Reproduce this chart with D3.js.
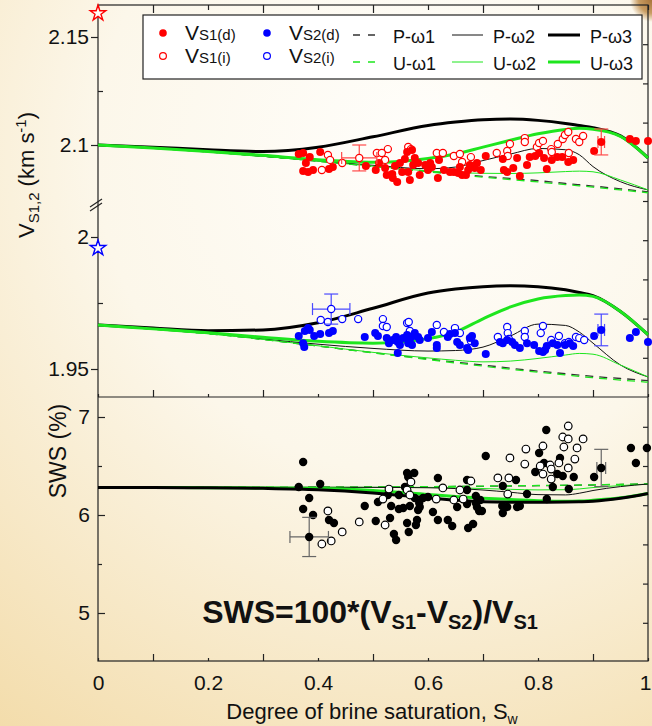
<!DOCTYPE html>
<html>
<head>
<meta charset="utf-8">
<script src="https://cdn.jsdelivr.net/npm/d3@7"></script>
<style>
  body { margin: 0; }
  svg { display: block; font-family: 'Liberation Sans', Arial, sans-serif; }
</style>
</head>
<body>
<div id="chart"></div>
<script>
// saturation grid used by all model curves
const sw = [0, 0.1, 0.2, 0.3, 0.4, 0.5, 0.6, 0.65, 0.7, 0.75, 0.8, 0.85, 0.875, 0.9, 0.95, 1]

// V_S1 model curves (km/s)
const vs1P1 = [2.1, 2.0985, 2.0968, 2.0948, 2.0925, 2.0902, 2.0878, 2.0866, 2.0855, 2.0845, 2.0835, 2.0822, 2.0816, 2.081, 2.0797, 2.0783]
const vs1U1 = [2.1, 2.0985, 2.0968, 2.0948, 2.0925, 2.0901, 2.0876, 2.0863, 2.0851, 2.084, 2.0829, 2.0817, 2.0811, 2.0805, 2.0792, 2.0779]
const vs1P2 = [2.1, 2.0985, 2.0968, 2.0948, 2.0926, 2.0906, 2.089, 2.0898, 2.0928, 2.0958, 2.0984, 2.0978, 2.0955, 2.09, 2.083, 2.0792]
const vs1U2 = [2.1, 2.0985, 2.0968, 2.0948, 2.0925, 2.0902, 2.088, 2.0872, 2.0869, 2.0868, 2.0871, 2.0877, 2.0879, 2.0876, 2.0838, 2.0792]
const vs1P3 = [2.1, 2.099, 2.0978, 2.097, 2.099, 2.1038, 2.109, 2.1106, 2.1117, 2.112, 2.1114, 2.11, 2.109, 2.108, 2.1042, 2.094]
const vs1U3 = [2.1, 2.0986, 2.097, 2.0952, 2.0932, 2.092, 2.0938, 2.0958, 2.099, 2.1022, 2.1052, 2.1072, 2.1077, 2.1073, 2.104, 2.094]

// V_S2 model curves (km/s)
const vs2P1 = [1.9667, 1.9651, 1.9634, 1.9612, 1.9587, 1.9562, 1.9538, 1.9526, 1.9515, 1.9503, 1.9492, 1.9482, 1.9477, 1.9472, 1.9464, 1.9456]
const vs2U1 = [1.9667, 1.9651, 1.9634, 1.9612, 1.9587, 1.9561, 1.9536, 1.9523, 1.9511, 1.9499, 1.9488, 1.9478, 1.9472, 1.9467, 1.9458, 1.945]
const vs2P2 = [1.9667, 1.9652, 1.9636, 1.9614, 1.9594, 1.9578, 1.9568, 1.957, 1.9583, 1.9625, 1.967, 1.9665, 1.964, 1.9598, 1.9515, 1.947]
const vs2U2 = [1.9667, 1.9651, 1.9634, 1.9612, 1.9588, 1.9563, 1.9542, 1.9533, 1.9527, 1.953, 1.954, 1.9553, 1.9559, 1.9556, 1.9515, 1.947]
const vs2P3 = [1.9667, 1.9655, 1.9645, 1.9648, 1.9675, 1.973, 1.9788, 1.9803, 1.9812, 1.9815, 1.9812, 1.98, 1.979, 1.9778, 1.9718, 1.963]
const vs2U3 = [1.9667, 1.9652, 1.9637, 1.962, 1.9605, 1.9598, 1.9615, 1.964, 1.969, 1.9735, 1.9765, 1.9778, 1.978, 1.9775, 1.9718, 1.963]

// SWS model curves (%)
const swsP1 = [6.28, 6.28, 6.281, 6.282, 6.284, 6.286, 6.289, 6.291, 6.293, 6.296, 6.299, 6.302, 6.304, 6.306, 6.311, 6.316]
const swsU1 = [6.28, 6.28, 6.281, 6.282, 6.284, 6.286, 6.29, 6.292, 6.295, 6.298, 6.301, 6.304, 6.306, 6.308, 6.313, 6.318]
const swsP2 = [6.28, 6.28, 6.281, 6.282, 6.283, 6.282, 6.278, 6.27, 6.255, 6.232, 6.208, 6.205, 6.222, 6.25, 6.29, 6.316]
const swsU2 = [6.28, 6.28, 6.281, 6.282, 6.283, 6.283, 6.282, 6.278, 6.27, 6.262, 6.256, 6.258, 6.266, 6.28, 6.3, 6.316]
const swsP3 = [6.28, 6.28, 6.278, 6.272, 6.258, 6.225, 6.175, 6.152, 6.135, 6.13, 6.13, 6.132, 6.135, 6.14, 6.17, 6.22]
const swsU3 = [6.28, 6.28, 6.279, 6.276, 6.27, 6.25, 6.21, 6.19, 6.172, 6.158, 6.146, 6.14, 6.142, 6.15, 6.175, 6.22]

// measured points [Sw, value]
const vs1Direct = [[0.365, 2.0958], [0.373, 2.0963], [0.378, 2.0917], [0.385, 2.0944], [0.404, 2.0968], [0.373, 2.088], [0.382, 2.0875], [0.391, 2.0884], [0.42, 2.0889], [0.427, 2.0898], [0.487, 2.0903], [0.505, 2.0884], [0.511, 2.0917], [0.525, 2.0861], [0.535, 2.0866], [0.536, 2.0847], [0.544, 2.0829], [0.553, 2.0875], [0.549, 2.0917], [0.558, 2.0935], [0.562, 2.0968], [0.571, 2.0977], [0.573, 2.0907], [0.567, 2.0838], [0.564, 2.0875], [0.582, 2.0917], [0.585, 2.0861], [0.595, 2.0907], [0.604, 2.0917], [0.607, 2.0898], [0.618, 2.0847], [0.62, 2.0931], [0.64, 2.0875], [0.647, 2.0875], [0.655, 2.087], [0.658, 2.0898], [0.669, 2.0861], [0.673, 2.0884], [0.676, 2.0907], [0.685, 2.0894], [0.689, 2.0917], [0.705, 2.0949], [0.738, 2.0884], [0.744, 2.0875], [0.755, 2.0894], [0.762, 2.094], [0.78, 2.0907], [0.785, 2.0944], [0.736, 2.0935], [0.767, 2.0856], [0.795, 2.0949], [0.802, 2.0963], [0.811, 2.094], [0.816, 2.0889], [0.825, 2.0931], [0.835, 2.0944], [0.844, 2.0944], [0.855, 2.0921], [0.864, 2.0931], [0.902, 2.0972], [0.967, 2.1028], [0.978, 2.1019], [1.0, 2.1019], [0.54, 2.0903], [0.576, 2.094], [0.629, 2.0884], [0.662, 2.0861], [0.696, 2.0884], [0.522, 2.0894], [0.6, 2.0884]]
const vs1Indirect = [[0.418, 2.0954], [0.422, 2.0931], [0.444, 2.0917], [0.407, 2.0884], [0.507, 2.0963], [0.527, 2.0981], [0.522, 2.0931], [0.516, 2.0963], [0.564, 2.0991], [0.569, 2.0981], [0.616, 2.0963], [0.627, 2.0963], [0.647, 2.0949], [0.658, 2.0958], [0.662, 2.0921], [0.678, 2.0944], [0.725, 2.0963], [0.744, 2.0972], [0.749, 2.1005], [0.745, 2.0949], [0.776, 2.1032], [0.776, 2.1014], [0.798, 2.0991], [0.802, 2.1009], [0.809, 2.1019], [0.824, 2.0981], [0.825, 2.0968], [0.836, 2.1005], [0.845, 2.1028], [0.849, 2.1046], [0.855, 2.106], [0.856, 2.0963], [0.869, 2.1028], [0.875, 2.1014], [0.882, 2.1042]]
const vs2Direct = [[0.365, 1.9625], [0.376, 1.9644], [0.382, 1.9655], [0.385, 1.9648], [0.373, 1.9598], [0.375, 1.9583], [0.393, 1.9625], [0.404, 1.9633], [0.42, 1.9636], [0.427, 1.9644], [0.485, 1.9621], [0.504, 1.9636], [0.509, 1.9625], [0.525, 1.9617], [0.529, 1.9598], [0.536, 1.961], [0.542, 1.9621], [0.545, 1.9602], [0.549, 1.9591], [0.555, 1.9617], [0.562, 1.9629], [0.564, 1.9598], [0.567, 1.961], [0.573, 1.9625], [0.576, 1.9636], [0.582, 1.9621], [0.585, 1.961], [0.571, 1.9591], [0.545, 1.9561], [0.6, 1.9617], [0.607, 1.964], [0.616, 1.9591], [0.616, 1.958], [0.636, 1.9621], [0.64, 1.9633], [0.649, 1.9636], [0.653, 1.9602], [0.658, 1.9591], [0.671, 1.958], [0.676, 1.9617], [0.68, 1.9625], [0.685, 1.9598], [0.673, 1.9572], [0.705, 1.9557], [0.731, 1.9602], [0.736, 1.9598], [0.744, 1.961], [0.753, 1.9602], [0.758, 1.9591], [0.767, 1.958], [0.78, 1.9598], [0.793, 1.9591], [0.802, 1.9568], [0.809, 1.9564], [0.813, 1.9572], [0.816, 1.9587], [0.827, 1.9598], [0.835, 1.9591], [0.84, 1.9561], [0.849, 1.9591], [0.858, 1.9598], [0.864, 1.9587], [0.902, 1.9625], [0.967, 1.9617], [0.978, 1.964], [1.0, 1.9602]]
const vs2Indirect = [[0.405, 1.9686], [0.418, 1.9678], [0.444, 1.9689], [0.473, 1.9689], [0.518, 1.9689], [0.518, 1.9663], [0.525, 1.9659], [0.562, 1.9674], [0.565, 1.9678], [0.567, 1.9644], [0.616, 1.9667], [0.629, 1.964], [0.649, 1.9655], [0.658, 1.9636], [0.678, 1.9606], [0.727, 1.9621], [0.744, 1.9659], [0.745, 1.9636], [0.747, 1.9614], [0.776, 1.9644], [0.776, 1.9621], [0.805, 1.9636], [0.809, 1.9663], [0.824, 1.961], [0.838, 1.9625], [0.849, 1.9598], [0.856, 1.9602], [0.869, 1.9621], [0.875, 1.9617], [0.884, 1.961]]
const swsDirect = [[0.373, 6.541], [0.365, 6.286], [0.404, 6.316], [0.384, 6.173], [0.373, 6.061], [0.391, 6.0], [0.42, 5.949], [0.429, 5.918], [0.485, 6.092], [0.505, 5.939], [0.509, 6.133], [0.527, 6.204], [0.531, 5.969], [0.533, 6.092], [0.538, 5.806], [0.542, 5.745], [0.547, 6.204], [0.547, 6.061], [0.555, 6.071], [0.558, 6.286], [0.562, 6.429], [0.575, 6.429], [0.564, 6.388], [0.562, 5.918], [0.565, 5.827], [0.567, 6.092], [0.576, 6.173], [0.582, 6.051], [0.58, 5.949], [0.584, 6.122], [0.578, 5.898], [0.585, 6.082], [0.591, 6.173], [0.6, 6.184], [0.618, 6.378], [0.618, 5.949], [0.609, 6.031], [0.636, 5.949], [0.644, 5.888], [0.653, 6.082], [0.671, 6.357], [0.671, 6.255], [0.671, 6.112], [0.687, 6.194], [0.687, 6.122], [0.689, 6.082], [0.693, 6.041], [0.698, 6.041], [0.695, 6.153], [0.673, 5.867], [0.682, 5.908], [0.705, 6.602], [0.735, 6.092], [0.736, 6.296], [0.736, 6.02], [0.744, 6.082], [0.76, 6.357], [0.762, 6.082], [0.767, 6.092], [0.78, 6.214], [0.795, 6.439], [0.802, 6.633], [0.811, 6.531], [0.815, 6.867], [0.816, 6.163], [0.827, 6.286], [0.835, 6.418], [0.84, 6.582], [0.845, 6.398], [0.856, 6.265], [0.865, 6.388], [0.902, 6.388], [0.969, 6.684], [0.978, 6.531], [0.998, 6.684]]
const swsIndirect = [[0.418, 6.041], [0.407, 5.704], [0.424, 5.735], [0.444, 5.827], [0.475, 5.929], [0.518, 6.163], [0.522, 5.898], [0.529, 6.265], [0.562, 6.255], [0.569, 6.337], [0.567, 6.204], [0.615, 6.163], [0.627, 6.276], [0.647, 6.153], [0.658, 6.255], [0.664, 6.163], [0.678, 6.347], [0.727, 6.378], [0.745, 6.214], [0.749, 6.582], [0.747, 6.378], [0.776, 6.52], [0.778, 6.673], [0.804, 6.5], [0.809, 6.418], [0.809, 6.704], [0.822, 6.51], [0.824, 6.469], [0.824, 6.367], [0.838, 6.531], [0.845, 6.796], [0.855, 6.776], [0.855, 6.908], [0.847, 6.694], [0.855, 6.48], [0.867, 6.571], [0.871, 6.684], [0.882, 6.776]]

// mean values with error bars [Sw, value, dSw, dValue, open]
const vs1Err = [[0.475, 2.094, 0.032, 0.006, true], [0.915, 2.1014, 0.006, 0.006, false]]
const vs2Err = [[0.424, 1.9727, 0.034, 0.0057, true], [0.915, 1.9648, 0.006, 0.006, false]]
const swsErr = [[0.384, 5.776, 0.035, 0.2, false], [0.915, 6.48, 0.008, 0.19, false]]

// dry-rock values (stars at Sw = 0)
const vs1Dry = 2.161
const vs2Dry = 1.9958

const xTicks = [0, 0.2, 0.4, 0.6, 0.8, 1]
const xMinor = [0.1, 0.3, 0.5, 0.7, 0.9]

const width = 652
const height = 726
const frameBox = { left: 98, right: 648, top: 5, mid: 397, bottom: 661 }
const green = '#1ee61e'
const plainFormat = d3.format('')

const svg = d3
  .select('#chart')
  .append('svg')
  .attr('width', width)
  .attr('height', height)

// background
const defs = svg.append('defs')
const bg = defs
  .append('radialGradient')
  .attr('id', 'bg')
  .attr('gradientUnits', 'userSpaceOnUse')
  .attr('cx', 420)
  .attr('cy', 150)
  .attr('r', 720)
bg.append('stop').attr('offset', '0%').attr('stop-color', '#fffefb')
bg.append('stop').attr('offset', '45%').attr('stop-color', '#fcf7ea')
bg.append('stop').attr('offset', '100%').attr('stop-color', '#f3dcaa')
const corner = defs
  .append('radialGradient')
  .attr('id', 'corner')
  .attr('gradientUnits', 'userSpaceOnUse')
  .attr('cx', 652)
  .attr('cy', 0)
  .attr('r', 22)
corner.append('stop').attr('offset', '0%').attr('stop-color', '#a8743a')
corner.append('stop').attr('offset', '60%').attr('stop-color', '#c89c62')
corner.append('stop').attr('offset', '100%').attr('stop-color', '#c89c62').attr('stop-opacity', 0)

svg.append('rect').attr('width', width).attr('height', height).attr('fill', 'url(#bg)')
svg.append('rect').attr('x', 620).attr('width', 32).attr('height', 30).attr('fill', 'url(#corner)')

// scales
const x = d3.scaleLinear().domain([0, 1]).range([frameBox.left, frameBox.right])
const yUp = d3.scaleLinear().domain([2.1, 2.15]).range([145, 37])
const yLo = d3.scaleLinear().domain([1.95, 2]).range([369, 237])
const yV = v => (v > 2.04 ? yUp(v) : yLo(v))
const ySws = d3.scaleLinear().domain([5, 7]).range([613, 417])
const yRightTop = d3.scaleLinear().domain([0, 10]).range([frameBox.mid, frameBox.top])

// frame
const frame = svg.append('g').attr('stroke', '#222').attr('stroke-width', 1.2).attr('fill', 'none')
frame.append('rect')
  .attr('x', frameBox.left)
  .attr('y', frameBox.top)
  .attr('width', frameBox.right - frameBox.left)
  .attr('height', frameBox.bottom - frameBox.top)
frame.append('line')
  .attr('x1', frameBox.left)
  .attr('x2', frameBox.right)
  .attr('y1', frameBox.mid)
  .attr('y2', frameBox.mid)

function styleAxis(g) {
  g.select('.domain').remove()
  g.selectAll('line').attr('stroke', '#222').attr('stroke-width', 1.2)
  g.selectAll('text').attr('font-size', 21).attr('fill', '#111').attr('font-family', "'Liberation Sans', Arial, sans-serif")
}

function addAxis(axis, tx, ty) {
  return svg.append('g').attr('transform', `translate(${tx},${ty})`).call(axis).call(styleAxis)
}

const L = frameBox.left
const R = frameBox.right

// left axis, V panel
addAxis(d3.axisLeft(yUp).tickValues([2.1, 2.15]).tickSize(7).tickPadding(2).tickFormat(plainFormat), L, 0)
addAxis(d3.axisLeft(yLo).tickValues([1.95, 2]).tickSize(7).tickPadding(2).tickFormat(plainFormat), L, 0)
addAxis(d3.axisRight(yUp).tickValues([2.125]).tickSize(5).tickFormat(''), L, 0)
addAxis(d3.axisRight(yLo).tickValues([1.975]).tickSize(5).tickFormat(''), L, 0)

// axis break marks
svg.append('g')
  .selectAll('line')
  .data([0, 4])
  .enter()
  .append('line')
  .attr('x1', L - 8)
  .attr('x2', L + 4)
  .attr('y1', d => 207 + d)
  .attr('y2', d => 199 + d)
  .attr('stroke', '#222')
  .attr('stroke-width', 1.2)

// left axis, SWS panel
addAxis(d3.axisLeft(ySws).tickValues([5, 6, 7]).tickSizeInner(-7).tickSizeOuter(0).tickPadding(8).tickFormat(plainFormat), L, 0)
addAxis(d3.axisRight(ySws).tickValues([5.5, 6.5]).tickSize(4).tickFormat(''), L, 0)

// right axis ticks
addAxis(d3.axisLeft(yRightTop).tickValues(d3.range(1, 10)).tickSize(5).tickFormat(''), R, 0)
addAxis(d3.axisLeft(ySws).tickValues([4.9, 5.3, 5.7, 6.1, 6.5, 6.9]).tickSize(5).tickFormat(''), R, 0)

// x ticks (inward) and labels
const xAxisG = addAxis(d3.axisBottom(x).tickValues(xTicks).tickSizeInner(-3).tickSizeOuter(0).tickPadding(14).tickFormat(plainFormat), 0, frameBox.bottom)
xAxisG.selectAll('text').filter(d => d === 1).attr('dx', -3)
addAxis(d3.axisTop(x).tickValues(xMinor).tickSize(7).tickFormat(''), 0, frameBox.bottom)
addAxis(d3.axisTop(x).tickValues(xTicks).tickSize(3).tickFormat(''), 0, frameBox.mid)
addAxis(d3.axisTop(x).tickValues(xMinor).tickSize(7).tickFormat(''), 0, frameBox.mid)
addAxis(d3.axisBottom(x).tickValues(xTicks).tickSize(5).tickFormat(''), 0, frameBox.top)
addAxis(d3.axisBottom(x).tickValues(xMinor).tickSize(8).tickFormat(''), 0, frameBox.top)

// axis titles
const xTitle = svg.append('text')
  .attr('x', 372)
  .attr('y', 719)
  .attr('text-anchor', 'middle')
  .attr('font-size', 22)
  .attr('fill', '#111')
xTitle.append('tspan').text('Degree of brine saturation, S')
xTitle.append('tspan').attr('font-size', 14).attr('dy', 5).text('w')

const yTitle = svg.append('text')
  .attr('transform', 'translate(34,175) rotate(-90)')
  .attr('text-anchor', 'middle')
  .attr('font-size', 22)
  .attr('fill', '#111')
yTitle.append('tspan').text('V')
yTitle.append('tspan').attr('font-size', 15).attr('dy', 5).text('S1,2')
yTitle.append('tspan').attr('dy', -5).text(' (km s')
yTitle.append('tspan').attr('font-size', 15).attr('dy', -8).text('-1')
yTitle.append('tspan').attr('dy', 8).text(')')

svg.append('text')
  .attr('transform', 'translate(66,451) rotate(-90)')
  .attr('text-anchor', 'middle')
  .attr('font-size', 23)
  .attr('fill', '#111')
  .text('SWS (%)')

// model curves
const curveStyles = {
  P1: { color: '#333', width: 1.3, dash: '8,6' },
  U1: { color: green, width: 1.3, dash: '8,6' },
  P2: { color: '#111', width: 1 },
  U2: { color: green, width: 1 },
  P3: { color: '#000', width: 3 },
  U3: { color: green, width: 3 }
}

function drawCurves(series, yFn) {
  const line = d3
    .line()
    .x((d, i) => x(sw[i]))
    .y(d => yFn(d))
    .curve(d3.curveMonotoneX)
  series.forEach(([vals, key]) => {
    const s = curveStyles[key]
    svg
      .append('path')
      .datum(vals)
      .attr('d', line)
      .attr('fill', 'none')
      .attr('stroke', s.color)
      .attr('stroke-width', s.width)
      .attr('stroke-dasharray', s.dash || null)
  })
}

drawCurves([[vs1P1, 'P1'], [vs1U1, 'U1'], [vs1P2, 'P2'], [vs1U2, 'U2'], [vs1P3, 'P3'], [vs1U3, 'U3']], yV)
drawCurves([[vs2P1, 'P1'], [vs2U1, 'U1'], [vs2P2, 'P2'], [vs2U2, 'U2'], [vs2P3, 'P3'], [vs2U3, 'U3']], yV)
drawCurves([[swsP1, 'P1'], [swsU1, 'U1'], [swsU2, 'U2'], [swsP2, 'P2'], [swsU3, 'U3'], [swsP3, 'P3']], ySws)

// error bars
function drawErr(rows, yFn, color, lineColor, r) {
  const g = svg.append('g')
  rows.forEach(([s, v, ds, dv, open]) => {
    const cx = x(s)
    const cy = yFn(v)
    const y1 = yFn(v + dv)
    const y2 = yFn(v - dv)
    const gl = g.append('g').attr('stroke', lineColor).attr('stroke-width', 1.2)
    gl.append('line').attr('x1', cx).attr('x2', cx).attr('y1', y1).attr('y2', y2)
    gl.append('line').attr('x1', cx - 7).attr('x2', cx + 7).attr('y1', y1).attr('y2', y1)
    gl.append('line').attr('x1', cx - 7).attr('x2', cx + 7).attr('y1', y2).attr('y2', y2)
    const xa = x(s - ds)
    const xb = x(s + ds)
    gl.append('line').attr('x1', xa).attr('x2', xb).attr('y1', cy).attr('y2', cy)
    gl.append('line').attr('x1', xa).attr('x2', xa).attr('y1', cy - 6).attr('y2', cy + 6)
    gl.append('line').attr('x1', xb).attr('x2', xb).attr('y1', cy - 6).attr('y2', cy + 6)
    g.append('circle')
      .attr('cx', cx)
      .attr('cy', cy)
      .attr('r', open ? r - 0.4 : r)
      .attr('fill', open ? 'white' : color)
      .attr('stroke', open ? color : 'none')
      .attr('stroke-width', 1.2)
  })
}

// points
function drawPoints(data, yFn, color, open, r) {
  svg
    .append('g')
    .selectAll('circle')
    .data(data)
    .enter()
    .append('circle')
    .attr('cx', d => x(d[0]))
    .attr('cy', d => yFn(d[1]))
    .attr('r', open ? r - 0.4 : r)
    .attr('fill', open ? 'white' : color)
    .attr('stroke', open ? color : 'none')
    .attr('stroke-width', 1.2)
}

drawPoints(vs1Indirect, yV, '#ff0000', true, 4)
drawPoints(vs1Direct, yV, '#ff0000', false, 4)
drawPoints(vs2Indirect, yV, '#0000ff', true, 4)
drawPoints(vs2Direct, yV, '#0000ff', false, 4)
drawPoints(swsDirect, ySws, '#000', false, 4.2)
drawPoints(swsIndirect, ySws, '#000', true, 4.2)

drawErr(vs1Err, yV, '#ff0000', '#ff4a4a', 4)
drawErr(vs2Err, yV, '#0000ff', '#4a4aff', 4)
drawErr(swsErr, ySws, '#000', '#666', 4.2)

// dry-rock stars
const star = d3.symbol().type(d3.symbolStar).size(75)
svg.append('path')
  .attr('d', star)
  .attr('transform', `translate(${x(0)},${yV(vs1Dry)})`)
  .attr('fill', '#fffef8')
  .attr('stroke', '#ff0000')
  .attr('stroke-width', 1.4)
svg.append('path')
  .attr('d', star)
  .attr('transform', `translate(${x(0)},${yV(vs2Dry)})`)
  .attr('fill', '#fffef8')
  .attr('stroke', '#0000ff')
  .attr('stroke-width', 1.4)

// legend
const legend = svg.append('g')
legend.append('rect')
  .attr('x', 143)
  .attr('y', 15)
  .attr('width', 499)
  .attr('height', 64)
  .attr('fill', 'white')
  .attr('stroke', '#222')
  .attr('stroke-width', 1.2)

const markerItems = [
  { x: 163, y: 33, color: '#ff0000', open: false, label: 'S1(d)' },
  { x: 163, y: 56, color: '#ff0000', open: true, label: 'S1(i)' },
  { x: 267, y: 33, color: '#0000ff', open: false, label: 'S2(d)' },
  { x: 267, y: 56, color: '#0000ff', open: true, label: 'S2(i)' }
]
markerItems.forEach(d => {
  legend.append('circle')
    .attr('cx', d.x)
    .attr('cy', d.y)
    .attr('r', d.open ? 3.4 : 3.8)
    .attr('fill', d.open ? 'white' : d.color)
    .attr('stroke', d.open ? d.color : 'none')
    .attr('stroke-width', 1.2)
  const t = legend.append('text')
    .attr('x', d.x + 22)
    .attr('y', d.y + 7)
    .attr('fill', '#111')
  t.append('tspan').attr('font-size', 21).text('V')
  t.append('tspan').attr('font-size', 15).text(d.label)
})

const lineItems = [
  { x: 353, w: 24, key: 'P1', label: 'P-ω1', row: 0 },
  { x: 353, w: 24, key: 'U1', label: 'U-ω1', row: 1 },
  { x: 452, w: 31, key: 'P2', label: 'P-ω2', row: 0 },
  { x: 452, w: 31, key: 'U2', label: 'U-ω2', row: 1 },
  { x: 548, w: 32, key: 'P3', label: 'P-ω3', row: 0 },
  { x: 548, w: 32, key: 'U3', label: 'U-ω3', row: 1 }
]
lineItems.forEach(d => {
  const s = curveStyles[d.key]
  const ly = d.row === 0 ? 35 : 62
  legend.append('line')
    .attr('x1', d.x)
    .attr('x2', d.x + d.w)
    .attr('y1', ly)
    .attr('y2', ly)
    .attr('stroke', s.color)
    .attr('stroke-width', s.width)
    .attr('stroke-dasharray', s.dash ? '7,8' : null)
  legend.append('text')
    .attr('x', d.x + d.w + 10 + (d.key[1] === '1' ? 6 : 0))
    .attr('y', ly + 8)
    .attr('font-size', 18)
    .attr('fill', '#111')
    .text(d.label)
})

// SWS formula
const formula = svg.append('text')
  .attr('x', 370)
  .attr('y', 623)
  .attr('text-anchor', 'middle')
  .attr('font-size', 32)
  .attr('font-weight', 'bold')
  .attr('fill', '#111')
formula.append('tspan').text('SWS=100*(V')
formula.append('tspan').attr('font-size', 20).attr('dy', 6).text('S1')
formula.append('tspan').attr('dy', -6).text('-V')
formula.append('tspan').attr('font-size', 20).attr('dy', 6).text('S2')
formula.append('tspan').attr('dy', -6).text(')/V')
formula.append('tspan').attr('font-size', 20).attr('dy', 6).text('S1')
</script>
</body>
</html>
